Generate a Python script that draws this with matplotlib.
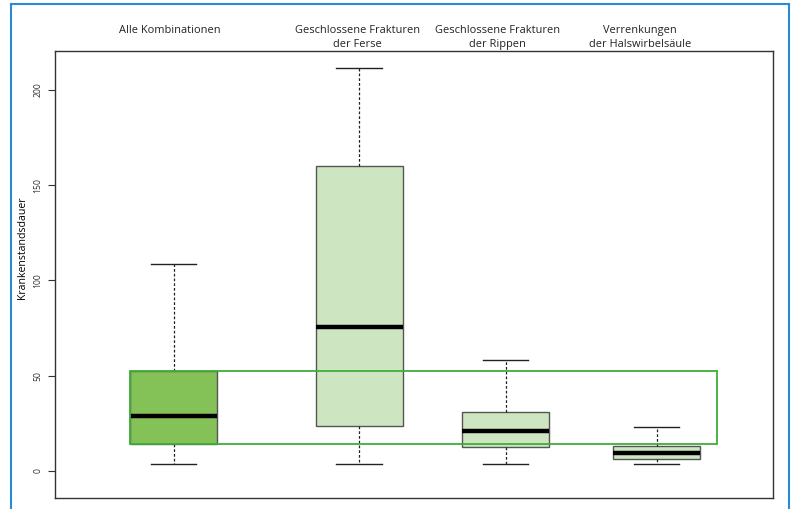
import matplotlib
matplotlib.use("Agg")
import matplotlib.pyplot as plt
from matplotlib.patches import Rectangle
from matplotlib.lines import Line2D
from matplotlib.transforms import blended_transform_factory

plt.rcParams['font.family'] = ['Open Sans', 'DejaVu Sans']

# Sick-leave duration (days) per diagnosis group
categories = [
    "Alle Kombinationen",
    "Geschlossene Frakturen\nder Ferse",
    "Geschlossene Frakturen\nder Rippen",
    "Verrenkungen\nder Halswirbelsäule",
]
whisker_low = [3.7, 3.7, 3.7, 3.7]
q1 = [14.2, 23.8, 12.8, 6.1]
median = [28.9, 75.6, 20.8, 9.6]
q3 = [52.5, 160.1, 30.8, 13.1]
whisker_high = [108.7, 211.5, 58.1, 22.9]
y_ticks = [0, 50, 100, 150, 200]

W, H = 792, 509
fig = plt.figure(figsize=(W / 100, H / 100), dpi=100)

ax_left, ax_right, ax_top, ax_bottom = 55, 773, 51, 498
ax = fig.add_axes([ax_left / W, 1 - ax_bottom / H,
                   (ax_right - ax_left) / W, (ax_bottom - ax_top) / H])

positions = [1.185, 3.04, 4.505, 6.015]
label_x = [1.15, 3.025, 4.425, 5.85]
box_width = 0.87
fills = ["#84c257", "#cde6c1", "#cde6c1", "#cde6c1"]

stats = []
for i, name in enumerate(categories):
    stats.append(dict(label=name, whislo=whisker_low[i], q1=q1[i],
                      med=median[i], q3=q3[i], whishi=whisker_high[i],
                      fliers=[]))

bp = ax.bxp(stats, positions=positions, widths=box_width, patch_artist=True,
            showfliers=False,
            boxprops=dict(edgecolor="#555555", linewidth=1.0),
            medianprops=dict(color="black", linewidth=3.2, solid_capstyle="butt"),
            whiskerprops=dict(color="#222222", linewidth=0.9,
                              linestyle=(0, (2.2, 1.6))),
            capprops=dict(color="#222222", linewidth=1.0),
            capwidths=box_width * 0.52)
for patch, c in zip(bp["boxes"], fills):
    patch.set_facecolor(c)

# Highlight band: interquartile range of the overall group
band_left = positions[0] - box_width / 2
band_right = 6.62
ax.add_patch(Rectangle((band_left, q1[0]), band_right - band_left, q3[0] - q1[0],
                       fill=False, edgecolor="#3fae3a", linewidth=1.3, zorder=5))

ax.set_xlim(0, 7.18)
ax.set_ylim(-14.2, 220.5)
ax.set_xticks([])
ax.set_yticks(y_ticks)
ax.set_yticklabels([str(t) for t in y_ticks], rotation=90, va="center",
                   fontsize=6.2, color="#333333")
ax.tick_params(axis="y", length=5, width=0.8, pad=4, color="#333333")
for s in ax.spines.values():
    s.set_linewidth(1.0)
    s.set_color("#333333")
ax.set_ylabel("Krankenstandsdauer", fontsize=7.6)
ax.yaxis.set_label_coords(-0.038, 0.56)

# Group titles above the plot area
title_tf = blended_transform_factory(ax.transData, fig.transFigure)
for x, name in zip(label_x, categories):
    ax.text(x, 1 - 25.5 / H, name, transform=title_tf,
            ha="center", va="top", fontsize=7.9, linespacing=1.3,
            color="#222222")

# Blue page frame
fc = "#2a8ad6"
fig.add_artist(Line2D([11 / W, 11 / W], [0, 1 - 4 / H], color=fc, linewidth=1.5))
fig.add_artist(Line2D([11 / W, 789 / W], [1 - 4 / H, 1 - 4 / H], color=fc, linewidth=1.5))
fig.add_artist(Line2D([789 / W, 789 / W], [0, 1 - 4 / H], color=fc, linewidth=1.5))

fig.savefig("out.png", dpi=100)
